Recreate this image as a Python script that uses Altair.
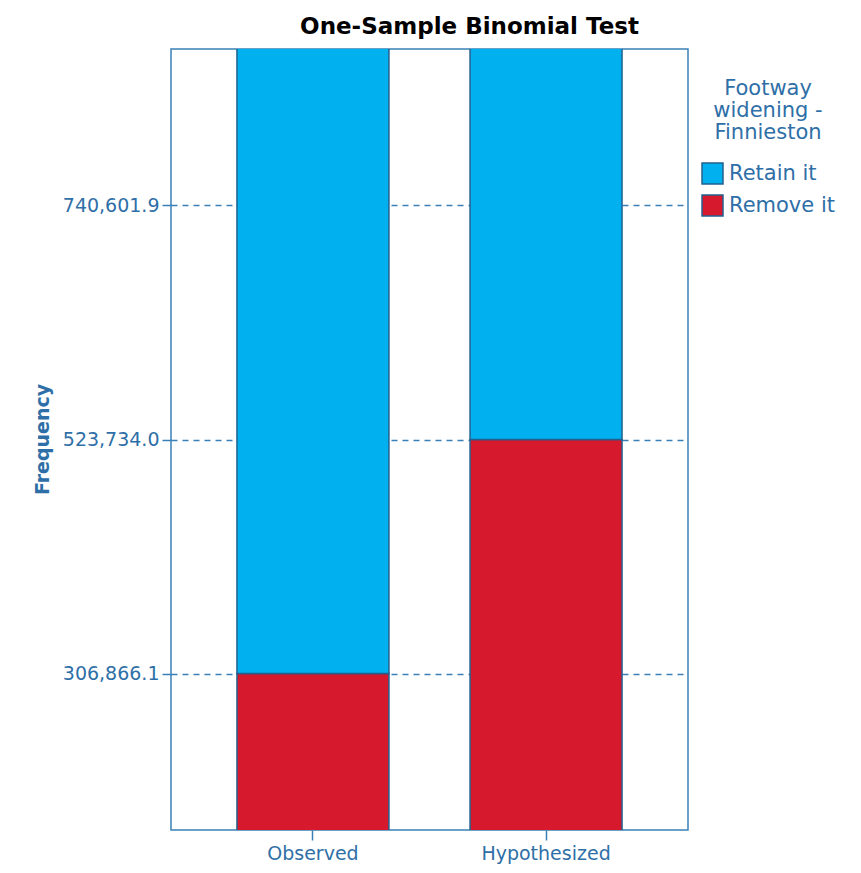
import altair as alt
import pandas as pd

categories = ["Observed", "Observed", "Hypothesized", "Hypothesized"]
groups = ["Remove it", "Retain it", "Remove it", "Retain it"]
frequency = [306866.1, 740601.9, 523734.0, 523734.0]
stack_order = [0, 1, 0, 1]
tick_values = [306866.1, 523734.0, 740601.9]

df = pd.DataFrame({"cat": categories, "grp": groups, "freq": frequency, "ord": stack_order})

BLUE = "#2f6fa7"
FRAME = "#3a80b6"
STROKE = "#22608f"
FONT = "DejaVu Sans"

chart = alt.Chart(df).mark_bar(clip=True, stroke=STROKE, strokeWidth=1.5).encode(
    x=alt.X("cat:N", sort=["Observed", "Hypothesized"], title=None,
            scale=alt.Scale(paddingInner=0.348, paddingOuter=0.283),
            axis=alt.Axis(labelAngle=0, labelFontSize=19, labelColor=BLUE, labelFont=FONT,
                          tickColor=FRAME, tickSize=10, tickWidth=1.5, domain=False, labelPadding=4)),
    y=alt.Y("freq:Q", stack="zero", title="Frequency",
            scale=alt.Scale(domain=[161834, 885634], zero=False, nice=False),
            axis=alt.Axis(values=tick_values, format=",.1f", labelFontSize=19, labelColor=BLUE,
                          labelFont=FONT, tickColor=FRAME, tickSize=9, tickWidth=1.5,
                          domain=False, grid=True, gridColor=FRAME, gridDash=[6, 5], gridWidth=1.5,
                          labelPadding=3, titleFont=FONT, titleFontSize=19,
                          titleFontWeight="bold", titleColor=BLUE, titleX=-129, titleY=390,
                          titleAngle=270, titleAlign="center", titleBaseline="middle")),
    color=alt.Color("grp:N", scale=alt.Scale(domain=["Retain it", "Remove it"], range=["#00b0ef", "#d7192d"]),
                    legend=alt.Legend(title=["Footway", "widening -", "Finnieston"], orient="none",
                                      legendX=530, legendY=29, titleAnchor="middle", titleAlign="center",
                                      titleFont=FONT, titleFontSize=21, titleFontWeight="normal",
                                      titleColor=BLUE, titleLineHeight=22, titlePadding=19,
                                      labelFont=FONT, labelFontSize=21, labelColor=BLUE,
                                      symbolType="square", symbolSize=440, symbolStrokeColor=STROKE,
                                      symbolStrokeWidth=1.5, symbolOpacity=1, rowPadding=5, labelOffset=5)),
    order=alt.Order("ord:Q"),
).properties(
    width=517, height=781,
    title=alt.TitleParams("One-Sample Binomial Test", font=FONT, fontSize=23,
                          fontWeight="bold", color="black", anchor="middle", dx=40, offset=10),
    autosize=alt.AutoSizeParams(type="none"),
    padding={"left": 163, "top": 41, "right": 164, "bottom": 34},
).configure_view(stroke=FRAME, strokeWidth=1.5)

chart.save("out.html", embed_options={"renderer": "svg", "actions": False})
